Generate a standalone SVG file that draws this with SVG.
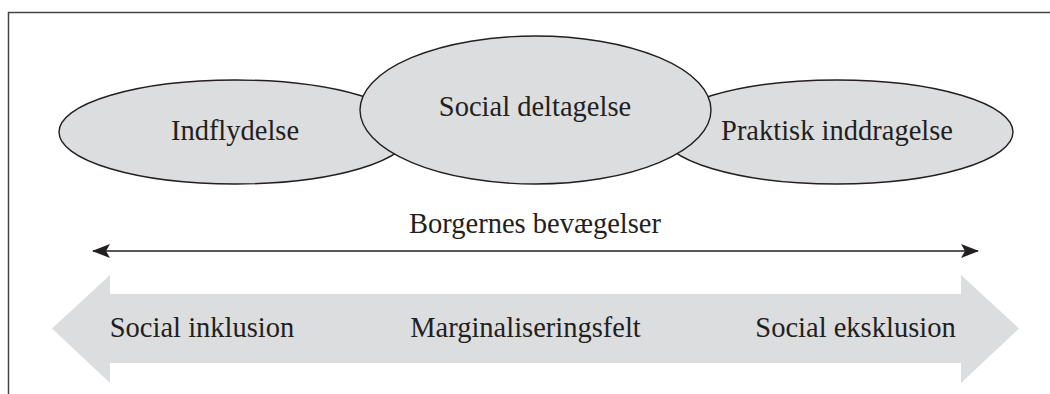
<svg xmlns="http://www.w3.org/2000/svg" width="1050" height="394" viewBox="0 0 1050 394">
<style>
.t{font-family:"Liberation Serif","Times New Roman",serif;font-size:28.5px;fill:#231f20;text-anchor:middle}
.el{fill:#dcdddf;stroke:#231f20;stroke-width:1.4}
</style>
<defs>
<marker id="ah" viewBox="0 0 18 14" refX="17" refY="7" markerWidth="18" markerHeight="14" markerUnits="userSpaceOnUse" orient="auto-start-reverse">
<path d="M0,0 L18,7 L0,14 L4,7 Z" fill="#231f20"/>
</marker>
</defs>
<rect width="1050" height="394" fill="#fff"/>
<path d="M8.5,394 V12.5 H1050" fill="none" stroke="#444" stroke-width="1.5"/>
<g id="indflydelse">
<ellipse class="el" cx="235" cy="132" rx="176" ry="52"/>
<text class="t" x="235" y="140">Indflydelse</text>
</g>
<g id="praktisk">
<ellipse class="el" cx="837" cy="132" rx="176" ry="52"/>
<text class="t" x="837" y="140">Praktisk inddragelse</text>
</g>
<g id="social-deltagelse">
<ellipse class="el" cx="535.5" cy="110" rx="175.5" ry="74"/>
<text class="t" x="535" y="116">Social deltagelse</text>
</g>
<g id="connectors">
<line x1="93" y1="251" x2="978" y2="251" stroke="#231f20" stroke-width="1.4" marker-start="url(#ah)" marker-end="url(#ah)"/>
</g>
<g id="borgernes">
<text class="t" x="535" y="233">Borgernes bevægelser</text>
</g>
<g id="felt">
<path d="M52,328.5 L110,275 V294 H961 V275 L1019,328.5 L961,383 V363 H110 V383 Z" fill="#dcdddf"/>
<text class="t" x="202" y="337">Social inklusion</text>
<text class="t" x="525.5" y="337">Marginaliseringsfelt</text>
<text class="t" x="855.5" y="337">Social eksklusion</text>
</g>
</svg>
